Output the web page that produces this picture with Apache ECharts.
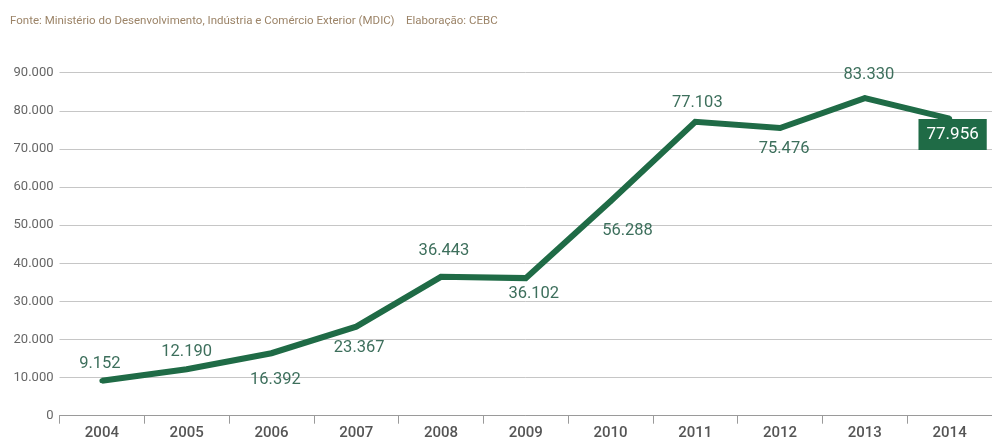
<!DOCTYPE html>
<html>
<head>
<meta charset="utf-8">
<script src="https://cdn.jsdelivr.net/npm/echarts@6/dist/echarts.min.js"></script>
<style>
  html, body { margin: 0; padding: 0; background: #fff; }
  #chart { width: 992px; height: 441px; }
</style>
</head>
<body>
<div id="chart"></div>
<script>
// Years on the x axis
const years = ['2004', '2005', '2006', '2007', '2008', '2009', '2010', '2011', '2012', '2013', '2014'];
// Values per year
const values = [9152, 12190, 16392, 23367, 36443, 36102, 56288, 77103, 75476, 83330, 77956];
// Tick values on the y axis
const yTicks = [0, 10000, 20000, 30000, 40000, 50000, 60000, 70000, 80000, 90000];
// Label placement per point: [dx, dy] from the point, relative to the label centre
const labelShift = [[-2, -18], [0, -19], [4, 25], [3, 20], [3, -27], [8, 14], [17, 28], [2, -20], [4, 19], [4, -25], [3, 16]];

const sourceText = 'Fonte: Ministério do Desenvolvimento, Indústria e Comércio Exterior (MDIC)';
const creditText = 'Elaboração: CEBC';

const GREEN = '#1f6b46';
const LABEL_GREEN = '#3d6f5c';

function fmt(v) {
  return v.toLocaleString('de-DE');
}

const lastIdx = values.length - 1;
const seriesData = values.map((v, i) => {
  const [dx, dy] = labelShift[i];
  if (i === lastIdx) {
    return {
      value: v,
      label: {
        offset: [dx, dy + 18],
        backgroundColor: GREEN,
        color: '#ffffff',
        padding: [6, 8],
        fontSize: 17,
        lineHeight: 19
      }
    };
  }
  return { value: v, label: { offset: [dx, dy + 13] } };
});

const chart = echarts.init(document.getElementById('chart'), null, { renderer: 'canvas' });

chart.setOption({
  animation: false,
  backgroundColor: '#ffffff',
  graphic: [
    {
      type: 'text', left: 10, top: 15,
      style: { text: sourceText, fill: '#9c8468', font: '11.5px Roboto' }
    },
    {
      type: 'text', left: 406, top: 15,
      style: { text: creditText, fill: '#9c8468', font: '11.5px Roboto' }
    }
  ],
  grid: { left: 59.5, right: -8, top: 72.7, bottom: 25.3, containLabel: false },
  xAxis: {
    type: 'category',
    data: years,
    boundaryGap: true,
    axisLine: { show: true, lineStyle: { color: '#9a9a9a', width: 1 } },
    axisTick: { show: true, alignWithLabel: false, length: 8, lineStyle: { color: '#9a9a9a' } },
    axisLabel: { color: '#555', fontFamily: 'Roboto', fontSize: 15, fontWeight: 500, margin: 10 },
    splitLine: { show: false }
  },
  yAxis: {
    type: 'value',
    min: yTicks[0],
    max: yTicks[yTicks.length - 1],
    interval: yTicks[1] - yTicks[0],
    axisLine: { show: false },
    axisTick: { show: false },
    axisLabel: { color: '#666', fontFamily: 'Roboto', fontSize: 13, margin: 6, formatter: v => fmt(v) },
    splitLine: { show: true, lineStyle: { color: '#c6c6c6', width: 1 } }
  },
  series: [{
    type: 'line',
    data: seriesData,
    symbol: 'circle',
    symbolSize: 5,
    showSymbol: true,
    itemStyle: { color: GREEN },
    lineStyle: { color: GREEN, width: 6, join: 'miter' },
    label: {
      show: true,
      position: 'top',
      distance: 0,
      color: LABEL_GREEN,
      fontFamily: 'Roboto',
      fontSize: 16.5,
      lineHeight: 18,
      formatter: p => fmt(p.value)
    },
    emphasis: { disabled: true }
  }]
});
</script>
</body>
</html>
